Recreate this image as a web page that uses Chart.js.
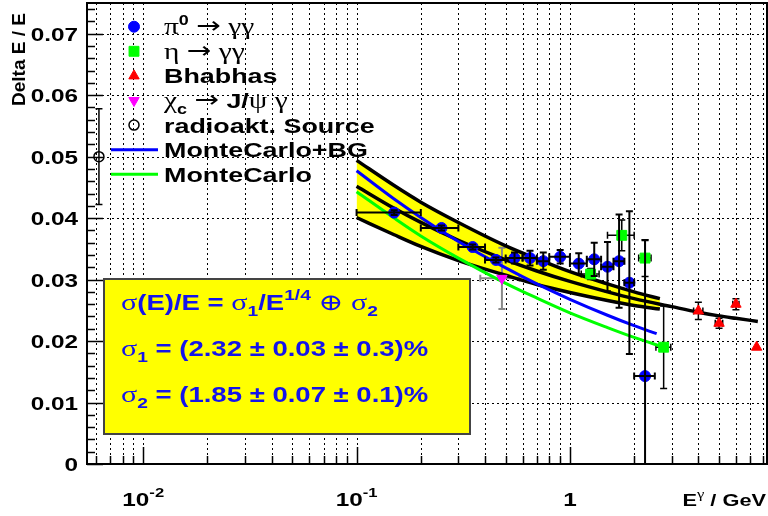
<!DOCTYPE html>
<html lang="en">
<head>
<meta charset="UTF-8">
<title>Delta E / E</title>
<script src="https://cdn.jsdelivr.net/npm/chart.js"></script>
<style>
  html, body { margin: 0; padding: 0; background: #fff; }
  #wrap { width: 768px; height: 516px; }
</style>
</head>
<body>
<div id="wrap"><canvas id="chart" width="768" height="516"></canvas></div>
<script>
// pi0 -> gamma gamma
const pi0E   = [0.15, 0.25, 0.35, 0.45, 0.55, 0.65, 0.75, 0.9, 1.1, 1.3, 1.5, 1.7, 1.9, 2.25];
const pi0Val = [0.0409, 0.0384, 0.0353, 0.0332, 0.0335, 0.0335, 0.0330, 0.0337, 0.0326, 0.0333, 0.0321, 0.0330, 0.0295, 0.0143];
const pi0Ex  = [0.05, 0.05, 0.05, 0.05, 0.05, 0.05, 0.05, 0.1, 0.1, 0.1, 0.1, 0.1, 0.1, 0.25];
const pi0Ey  = [0.0004, 0.0004, 0.0004, 0.0004, 0.0009, 0.0012, 0.0014, 0.0011, 0.0017, 0.0027, 0.0040, 0.0076, 0.0116, 0.0221];
// eta -> gamma gamma
const etaE   = [1.25, 1.75, 2.25, 2.75];
const etaVal = [0.0309, 0.0372, 0.0335, 0.0190];
const etaEx  = [0.12, 0.25, 0.15, 0.22];
const etaEy  = [0.0009, 0.0025, 0.0030, 0.0067];
// Bhabhas
const bhaE   = [4.0, 5.0, 6.0, 7.5];
const bhaVal = [0.0249, 0.0229, 0.0260, 0.0190];
const bhaEx  = [0.2, 0.2, 0.2, 0];
const bhaEy  = [0.0014, 0.0008, 0.0009, 0];
// chi_c -> J/psi gamma
const chiE   = [0.48];
const chiVal = [0.0302];
const chiEx  = [0.1];
const chiEy  = [0.005];
// radioactive source
const srcE   = [0.0062];
const srcVal = [0.050];
const srcEx  = [0];
const srcEy  = [0.0078];

// fit band (upper / lower) and central fit
const bandE     = [0.1, 0.15, 0.2, 0.3, 0.5, 0.7, 1.0, 1.5, 2.0, 2.64];
const bandUpper = [0.0494, 0.0453, 0.0426, 0.0393, 0.0355, 0.0334, 0.0313, 0.0293, 0.0280, 0.0269];
const bandLower = [0.0401, 0.0373, 0.0354, 0.0331, 0.0307, 0.0292, 0.0279, 0.0266, 0.0258, 0.0252];
const fitE      = [0.1, 0.15, 0.2, 0.3, 0.5, 0.7, 1.0, 1.5, 2.0, 3.0, 4.0, 5.0, 6.0, 7.6];
const fitVal    = [0.0452, 0.0416, 0.0393, 0.0364, 0.0332, 0.0314, 0.0297, 0.0280, 0.0269, 0.0256, 0.0247, 0.0241, 0.0237, 0.0232];
// MonteCarlo curves
const mcBgE   = [0.1, 0.15, 0.2, 0.3, 0.5, 0.7, 1.0, 1.5, 2.0, 2.55];
const mcBgVal = [0.0477, 0.0431, 0.0401, 0.0362, 0.0319, 0.0293, 0.0268, 0.0242, 0.0225, 0.0212];
const mcE     = [0.1, 0.15, 0.2, 0.3, 0.5, 0.7, 1.0, 1.5, 2.0, 2.75];
const mcVal   = [0.0443, 0.0400, 0.0371, 0.0335, 0.0294, 0.0270, 0.0246, 0.0222, 0.0206, 0.0190];

// axes
const xMin = 0.00545, xMax = 8.39;
const yMin = 0, yMax = 0.075;
const xTickVals = [0.01, 0.1, 1];
const xTickBase = ['10', '10', '1'];
const xTickExp  = ['-2', '-1', ''];
const yTickVals   = [0, 0.01, 0.02, 0.03, 0.04, 0.05, 0.06, 0.07];
const yTickLabels = ['0', '0.01', '0.02', '0.03', '0.04', '0.05', '0.06', '0.07'];

const SX = 1.28; // the original canvas was stretched horizontally
const SANS = "'Liberation Sans', Arial, sans-serif";
const SERIF = "'Liberation Serif', 'DejaVu Serif', serif";
const ARROW = "'DejaVu Sans', sans-serif";
const CAP = 3.5;

const pts = (xs, ys) => xs.map((v, i) => ({ x: v, y: ys[i] }));

// minor grid positions for the log axis
const xMinor = [];
[0.001, 0.01, 0.1, 1].forEach(d => {
  for (let m = 1; m <= 9; m++) {
    const v = d * m;
    if (v > xMin && v < xMax) xMinor.push(v);
  }
});

function drawRuns(ctx, x, y, runs, size, color, align) {
  const fontOf = k => {
    if (k === 's') return (size + 2) + 'px ' + SERIF;
    if (k === 'a') return (size + 2) + 'px ' + ARROW;
    if (k === 'sup' || k === 'sub') return 'bold ' + Math.round(size * 0.68) + 'px ' + SANS;
    if (k === 'ssup') return Math.round(size * 0.75) + 'px ' + SERIF;
    return 'bold ' + size + 'px ' + SANS;
  };
  ctx.save();
  ctx.fillStyle = color;
  ctx.textBaseline = 'alphabetic';
  ctx.textAlign = 'left';
  let w = 0;
  runs.forEach(([t, k]) => { ctx.font = fontOf(k); w += ctx.measureText(t).width; });
  let cx = align === 'center' ? -w / 2 : (align === 'right' ? -w : 0);
  ctx.translate(x, y);
  ctx.scale(SX, 1);
  runs.forEach(([t, k]) => {
    ctx.font = fontOf(k);
    let dy = 0;
    if (k === 'sup' || k === 'ssup') dy = -size * 0.45;
    if (k === 'sub') dy = size * 0.28;
    if (k === 'a') dy = -1;
    ctx.fillText(t, cx, dy);
    cx += ctx.measureText(t).width;
  });
  ctx.restore();
}

function drawBars(chart, onTop) {
  const { ctx, chartArea: a, scales: { x, y } } = chart;
  ctx.save();
  ctx.beginPath();
  ctx.rect(a.left, a.top, a.right - a.left, a.bottom - a.top);
  ctx.clip();
  chart.data.datasets.forEach(ds => {
    if (!ds.errY || !!ds.barsOnTop !== onTop) return;
    ctx.strokeStyle = ds.barColor;
    ctx.lineWidth = ds.barWidth;
    ds.data.forEach((p, i) => {
      const px = x.getPixelForValue(p.x), py = y.getPixelForValue(p.y);
      const ex = ds.errX[i], ey = ds.errY[i];
      ctx.beginPath();
      if (ex > 0) {
        const x1 = x.getPixelForValue(p.x - ex), x2 = x.getPixelForValue(p.x + ex);
        ctx.moveTo(x1, py); ctx.lineTo(x2, py);
        ctx.moveTo(x1, py - CAP); ctx.lineTo(x1, py + CAP);
        ctx.moveTo(x2, py - CAP); ctx.lineTo(x2, py + CAP);
      }
      if (ey > 0) {
        const y1 = y.getPixelForValue(p.y + ey), y2 = y.getPixelForValue(p.y - ey);
        ctx.moveTo(px, y1); ctx.lineTo(px, y2);
        ctx.moveTo(px - CAP, y1); ctx.lineTo(px + CAP, y1);
        ctx.moveTo(px - CAP, y2); ctx.lineTo(px + CAP, y2);
      }
      ctx.stroke();
    });
  });
  ctx.restore();
}

const datasets = [
  { id: 'pi0', data: pts(pi0E, pi0Val), showLine: false, pointStyle: 'circle', pointRadius: 5.5,
    backgroundColor: '#0000ff', borderColor: '#0000ff', borderWidth: 1,
    errX: pi0Ex, errY: pi0Ey, barColor: '#000', barWidth: 2, barsOnTop: true, order: 1 },
  { id: 'eta', data: pts(etaE, etaVal), showLine: false, pointStyle: 'rect', pointRadius: 7,
    backgroundColor: '#00ff00', borderColor: '#00ff00', borderWidth: 1,
    errX: etaEx, errY: etaEy, barColor: '#000', barWidth: 1.5, order: 2 },
  { id: 'bha', data: pts(bhaE, bhaVal), showLine: false, pointStyle: 'triangle', pointRadius: 6,
    backgroundColor: '#ff0000', borderColor: '#ff0000', borderWidth: 1,
    errX: bhaEx, errY: bhaEy, barColor: '#000', barWidth: 1.5, order: 3 },
  { id: 'chi', data: pts(chiE, chiVal), showLine: false, pointStyle: 'triangle', rotation: 180, pointRadius: 6,
    backgroundColor: '#ff00ff', borderColor: '#ff00ff', borderWidth: 1,
    errX: chiEx, errY: chiEy, barColor: '#888', barWidth: 2, order: 4 },
  { id: 'src', data: pts(srcE, srcVal), showLine: false, pointStyle: 'circle', pointRadius: 5,
    backgroundColor: 'rgba(0,0,0,0)', borderColor: '#000', borderWidth: 1.5,
    errX: srcEx, errY: srcEy, barColor: '#000', barWidth: 1.5, barsOnTop: true, order: 5 },
  { id: 'mcbg', data: pts(mcBgE, mcBgVal), showLine: true, pointRadius: 0, borderColor: '#0000ff',
    borderWidth: 3, cubicInterpolationMode: 'monotone', order: 6 },
  { id: 'mc', data: pts(mcE, mcVal), showLine: true, pointRadius: 0, borderColor: '#00ff00',
    borderWidth: 3, cubicInterpolationMode: 'monotone', order: 7 },
  { id: 'fit', data: pts(fitE, fitVal), showLine: true, pointRadius: 0, borderColor: '#000',
    borderWidth: 3.5, cubicInterpolationMode: 'monotone', order: 8 },
  { id: 'upper', data: pts(bandE, bandUpper), showLine: true, pointRadius: 0, borderColor: '#000',
    borderWidth: 3.5, cubicInterpolationMode: 'monotone', fill: '+1', backgroundColor: '#ffff00', order: 10 },
  { id: 'lower', data: pts(bandE, bandLower), showLine: true, pointRadius: 0, borderColor: '#000',
    borderWidth: 3.5, cubicInterpolationMode: 'monotone', order: 9 }
];

const legendItems = [
  { ds: 'pi0', runs: [['π', 's'], ['0', 'sup'], [' ', 's'], ['→', 'a'], [' γγ', 's']] },
  { ds: 'eta', runs: [['η ', 's'], ['→', 'a'], [' γγ', 's']] },
  { ds: 'bha', runs: [['Bhabhas', 'b']] },
  { ds: 'chi', runs: [['χ', 's'], ['c', 'sub'], [' ', 's'], ['→', 'a'], [' ', 's'], ['J/', 'b'], ['ψ γ', 's']] },
  { ds: 'src', runs: [['radioakt. Source', 'b']] },
  { ds: 'mcbg', runs: [['MonteCarlo+BG', 'b']] },
  { ds: 'mc', runs: [['MonteCarlo', 'b']] }
];

const formulaLines = [
  [['σ', 's'], ['(E)/E = ', 'b'], ['σ', 's'], ['1', 'sub'], ['/E', 'b'], ['1/4', 'sup'], [' ⊕ ', 's'], ['σ', 's'], ['2', 'sub']],
  [['σ', 's'], ['1', 'sub'], [' = (2.32 ± 0.03 ± 0.3)%', 'b']],
  [['σ', 's'], ['2', 'sub'], [' = (1.85 ± 0.07 ± 0.1)%', 'b']]
];

const rootStyle = {
  id: 'rootStyle',
  beforeDraw(chart) {
    const { ctx, chartArea: a, scales: { x, y } } = chart;
    ctx.save();
    ctx.fillStyle = '#fff';
    ctx.fillRect(0, 0, chart.width, chart.height);
    ctx.strokeStyle = '#000';
    ctx.lineWidth = 1;
    ctx.setLineDash([2, 3]);
    ctx.beginPath();
    xMinor.forEach(v => {
      const px = Math.round(x.getPixelForValue(v)) + 0.5;
      ctx.moveTo(px, a.top); ctx.lineTo(px, a.bottom);
    });
    yTickVals.forEach(v => {
      if (v === 0) return;
      const py = Math.round(y.getPixelForValue(v)) + 0.5;
      ctx.moveTo(a.left, py); ctx.lineTo(a.right, py);
    });
    ctx.stroke();
    ctx.restore();
  },
  beforeDatasetsDraw(chart) { drawBars(chart, false); },
  afterDatasetsDraw(chart) { drawBars(chart, true); },
  afterDraw(chart) {
    const { ctx, chartArea: a, scales: { x, y } } = chart;
    ctx.save();
    ctx.strokeStyle = '#000';
    ctx.lineWidth = 1.5;
    ctx.beginPath();
    // y ticks (inside)
    for (let i = 0; i <= 37; i++) {
      const v = i * 0.002;
      const py = Math.round(y.getPixelForValue(v)) + 0.5;
      const len = (i % 5 === 0) ? 16 : 8;
      ctx.moveTo(a.left, py); ctx.lineTo(a.left + len, py);
    }
    // x ticks (inside)
    xMinor.forEach(v => {
      const px = Math.round(x.getPixelForValue(v)) + 0.5;
      const len = xTickVals.includes(v) ? 17 : 8;
      ctx.moveTo(px, a.bottom); ctx.lineTo(px, a.bottom - len);
    });
    ctx.stroke();
    // frame
    ctx.lineWidth = 2;
    ctx.strokeRect(a.left, a.top, a.right - a.left, a.bottom - a.top);
    ctx.restore();

    // y tick labels
    yTickVals.forEach((v, i) => {
      drawRuns(ctx, a.left - 9, y.getPixelForValue(v) + 7, [[yTickLabels[i], 'b']], 19, '#000', 'right');
    });
    // x tick labels
    xTickVals.forEach((v, i) => {
      const runs = [[xTickBase[i], 'b']];
      if (xTickExp[i]) runs.push([xTickExp[i], 'sup']);
      drawRuns(ctx, x.getPixelForValue(v), 506, runs, 19, '#000', 'center');
    });
    // axis titles
    drawRuns(ctx, 766, 506, [['E', 'b'], ['γ', 'ssup'], [' / GeV', 'b']], 17, '#000', 'right');
    ctx.save();
    ctx.translate(25, 106);
    ctx.rotate(-Math.PI / 2);
    ctx.font = 'bold 19px ' + SANS;
    ctx.fillStyle = '#000';
    ctx.textAlign = 'left';
    ctx.fillText('Delta E / E', 0, 0);
    ctx.restore();

    // legend
    legendItems.forEach((it, i) => {
      const ds = chart.data.datasets.find(d => d.id === it.ds);
      const cy = 26.7 + i * 24.6;
      ctx.save();
      if (ds.showLine) {
        ctx.strokeStyle = ds.borderColor;
        ctx.lineWidth = 3;
        ctx.beginPath();
        ctx.moveTo(111, cy); ctx.lineTo(158, cy);
        ctx.stroke();
      } else {
        ctx.fillStyle = ds.backgroundColor;
        ctx.strokeStyle = ds.borderColor;
        ctx.lineWidth = ds.borderWidth;
        Chart.helpers.drawPoint(ctx, {
          pointStyle: ds.pointStyle, rotation: ds.rotation || 0,
          radius: ds.pointRadius, borderWidth: ds.borderWidth
        }, 134, cy);
      }
      ctx.restore();
      drawRuns(ctx, 164, cy + 7.5, it.runs, 21, '#000', 'left');
    });

    // formula box
    ctx.save();
    ctx.fillStyle = '#ffff00';
    ctx.fillRect(104, 279, 366, 155);
    ctx.strokeStyle = '#444';
    ctx.lineWidth = 2;
    ctx.strokeRect(104, 279, 366, 155);
    ctx.restore();
    formulaLines.forEach((runs, i) => {
      drawRuns(ctx, 121, 310 + i * 46, runs, 21.5, '#1414eb', 'left');
    });
  }
};

new Chart(document.getElementById('chart').getContext('2d'), {
  type: 'scatter',
  data: { datasets: datasets },
  options: {
    responsive: false,
    animation: false,
    devicePixelRatio: 1,
    layout: { autoPadding: false, padding: { top: 3, right: 1, left: 0, bottom: 0 } },
    plugins: {
      legend: { display: false },
      tooltip: { enabled: false },
      filler: { drawTime: 'beforeDatasetsDraw' }
    },
    scales: {
      x: {
        type: 'logarithmic', min: xMin, max: xMax,
        grid: { display: false }, border: { display: false }, ticks: { display: false },
        afterFit(s) { s.height = 52; }
      },
      y: {
        type: 'linear', min: yMin, max: yMax,
        grid: { display: false }, border: { display: false }, ticks: { display: false },
        afterFit(s) { s.width = 87; }
      }
    }
  },
  plugins: [rootStyle]
});
</script>
</body>
</html>
